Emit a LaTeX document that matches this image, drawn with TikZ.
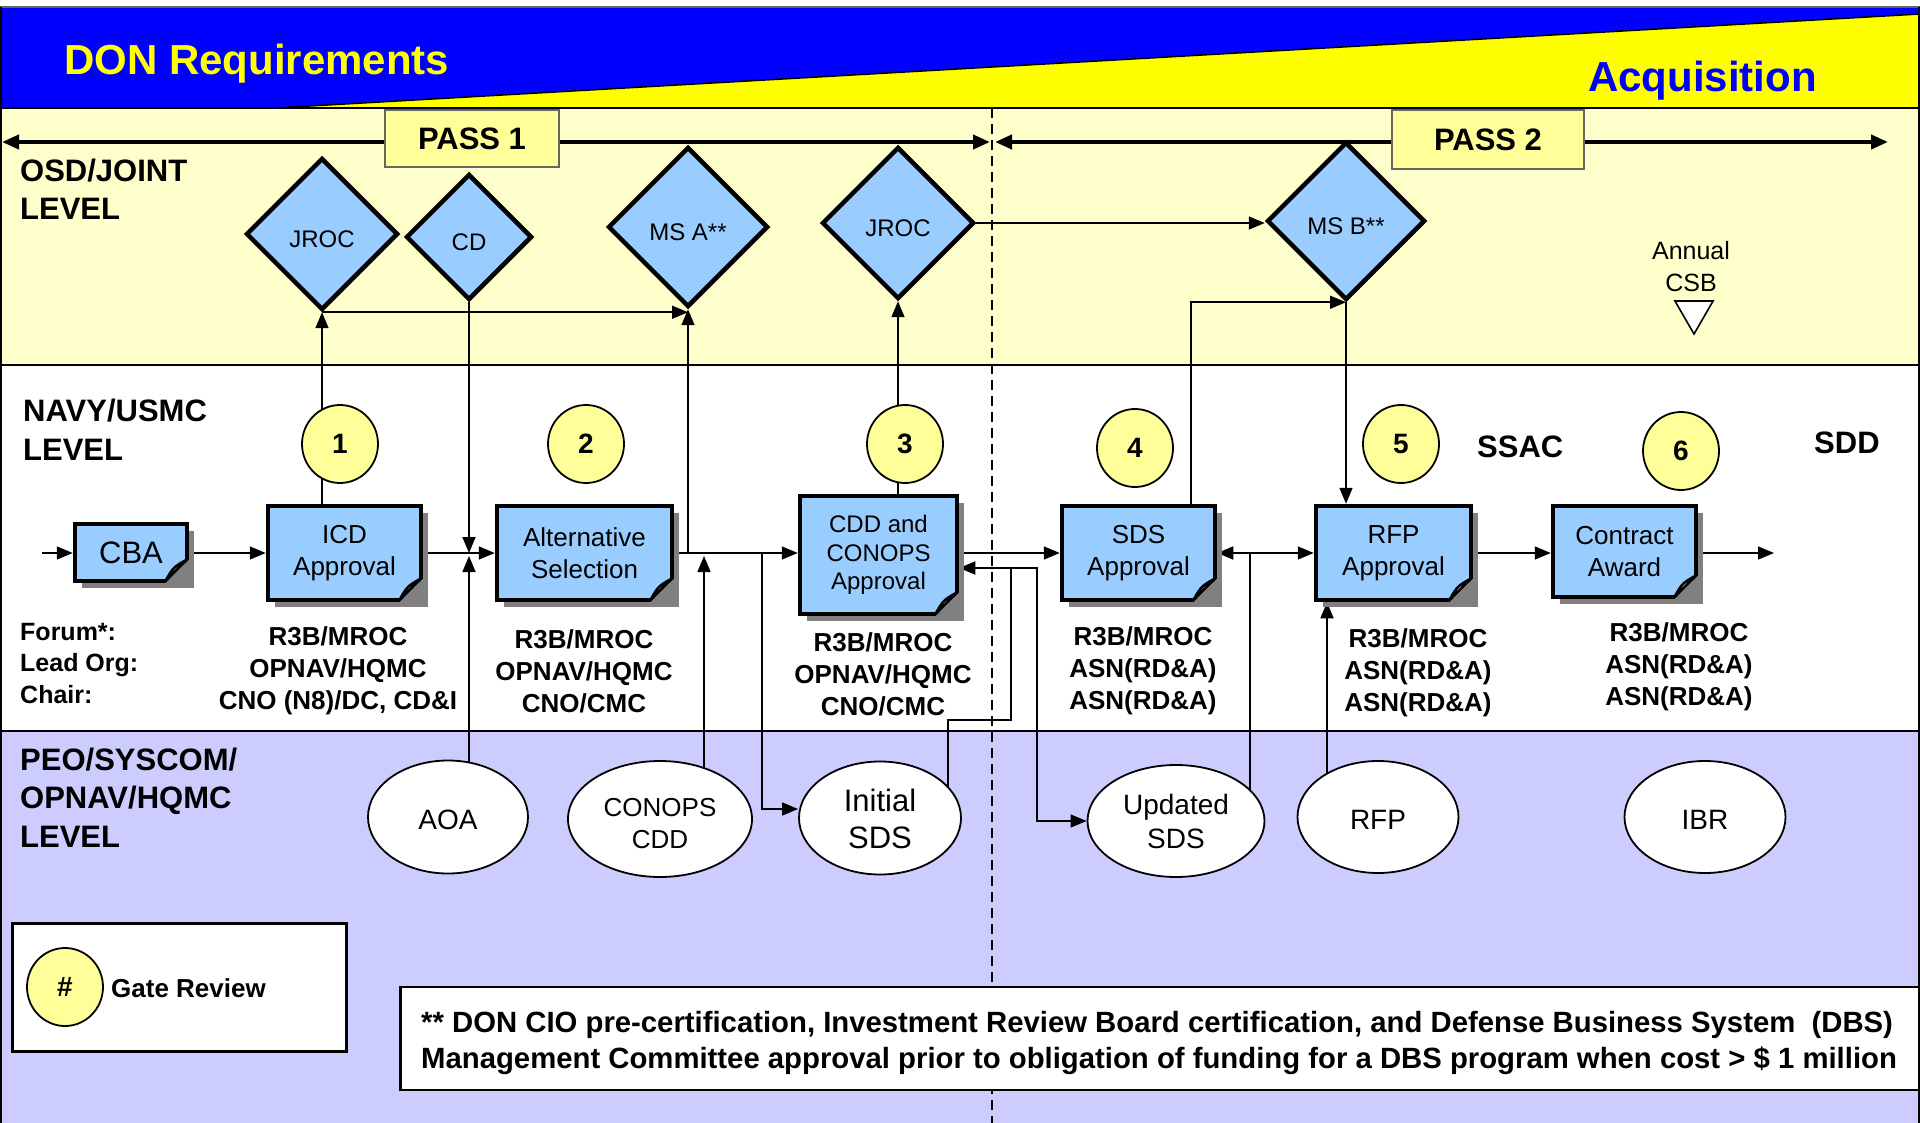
\documentclass[tikz,border=0pt]{standalone}
\usepackage{fontspec}
\setmainfont{Liberation Sans}
\usetikzlibrary{shapes.geometric,arrows.meta,shadows,calc}
\definecolor{bannerblue}{HTML}{0000FF}
\definecolor{banneryellow}{HTML}{FFFF00}
\definecolor{osdbg}{HTML}{FFFFCC}
\definecolor{peobg}{HTML}{CCCCFF}
\definecolor{procblue}{HTML}{99CCFF}
\definecolor{gateyellow}{HTML}{FFFF99}
\pgfdeclarelayer{bg}\pgfdeclarelayer{conn}\pgfsetlayers{bg,conn,main}
\newcommand{\fs}[2]{\fontsize{#1}{#2}\selectfont}
\newcommand{\dropby}[2]{\raisebox{-#1}[\height][\depth]{#2}}
\newcommand{\twolines}[2]{\begin{tabular}{@{}c@{}}#1\\#2\end{tabular}}
\newcommand{\pagecurl}[1]{%
  \fill[black!50] ($(#1.south east)+(-24pt,0pt)$) -- (#1.south east) -- ($(#1.south east)+(0pt,24pt)$) -- cycle;
  \filldraw[fill=white, draw=black, line width=2.5pt, line join=round]
    ($(#1.south east)+(-24pt,2pt)$) .. controls ($(#1.south east)+(-16pt,16pt)$) .. ($(#1.south east)+(-2pt,24pt)$) -- cycle;}
\tikzset{
  diam/.style={diamond, aspect=1, draw, line width=4.5pt, fill=procblue, inner sep=0pt, font=\fs{24}{28}},
  gate/.style={ellipse, draw, line width=1.8pt, fill=gateyellow, minimum width=76pt, minimum height=78pt, inner sep=0pt, font=\bfseries\fs{28}{32}},
  proc/.style={rectangle, draw, line width=4.5pt, fill=procblue, inner sep=0pt, align=center, font=\fs{26}{32},
    drop shadow={shadow xshift=7pt, shadow yshift=-7pt, fill=black!50, opacity=1}},
  doc/.style={ellipse, draw, line width=1.8pt, fill=white, inner sep=0pt, align=center, font=\fs{28}{34}},
  conn/.style={line width=1.6pt},
  arr/.style={conn, -{Triangle[length=16pt,width=13pt]}},
  lanelbl/.style={anchor=base west, font=\bfseries\fs{31}{38.5}, align=left, inner sep=0pt},
  info/.style={font=\bfseries\fs{26}{32}, align=center, inner sep=0pt},
  passbox/.style={rectangle, draw=black!60, line width=1.5pt, fill=gateyellow, inner sep=0pt, font=\bfseries\fs{31}{36}},
  passline/.style={line width=4pt, {Triangle[length=17pt,width=14pt]}-{Triangle[length=17pt,width=14pt]}},
  plain/.style={inner sep=0pt}
}
\begin{document}
\begin{tikzpicture}[x=1pt,y=-1pt]
\useasboundingbox (0,0) rectangle (1920,1123);
% ---------- backgrounds ----------
\begin{pgfonlayer}{bg}
  \fill[white] (0,0) rectangle (1920,1123);
  \fill[bannerblue] (0,7) rectangle (1920,108);
  \fill[banneryellow] (275,108) -- (1920,14) -- (1920,108) -- cycle;
  \draw[line width=1.5pt] (275,108) -- (1920,14);
  \fill[osdbg] (0,108) rectangle (1920,365);
  \fill[white] (0,365) rectangle (1920,731);
  \fill[peobg] (0,731) rectangle (1920,1123);
  \draw[line width=1.5pt, black!60] (0,7) -- (1920,7);
  \draw[line width=2.5pt] (0,108) -- (1920,108);
  \draw[line width=2.5pt] (0,365) -- (1920,365);
  \draw[line width=2.5pt] (0,731) -- (1920,731);
  \draw[line width=2pt] (1,7) -- (1,1123);
  \draw[line width=2pt] (1919,7) -- (1919,1123);
\end{pgfonlayer}

% ---------- texts in banner ----------
\node[plain, anchor=base west, text=banneryellow, font=\bfseries\fs{42}{48}] (don) at (64,75) {DON Requirements};
\node[plain, anchor=base west, text=bannerblue, font=\bfseries\fs{42}{48}] (acq) at (1588,92) {Acquisition};

% ---------- lane labels (anchor = baseline of last line) ----------
\node[lanelbl] (osdl) at (20,220) {OSD/JOINT\\LEVEL};
\node[lanelbl] (navl) at (23,460) {NAVY/USMC\\LEVEL};
\node[lanelbl] (peol) at (20,847) {PEO/SYSCOM/\\OPNAV/HQMC\\LEVEL};

% ---------- pass boxes ----------
\node[passbox, minimum width=174pt, minimum height=57pt] (pass1) at (472,138.5) {PASS 1};
\node[passbox, minimum width=192pt, minimum height=59pt] (pass2) at (1488,139.5) {PASS 2};

% ---------- diamonds ----------
\node[diam, minimum width=152pt, minimum height=152pt] (jroc1) at (322,234) {\dropby{5pt}{JROC}};
\node[diam, minimum width=126pt, minimum height=126pt] (cd) at (469,237) {\dropby{5pt}{CD}};
\node[diam, minimum width=160pt, minimum height=160pt] (msa) at (688,227) {\dropby{5pt}{MS A**}};
\node[diam, minimum width=152pt, minimum height=152pt] (jroc2) at (898,223) {\dropby{5pt}{JROC}};
\node[diam, minimum width=158pt, minimum height=158pt] (msb) at (1346,221) {\dropby{5pt}{MS B**}};

% ---------- annual CSB ----------
\node[plain, font=\fs{25}{32}, align=center] (csb) at (1691,267) {Annual\\CSB};
\node[regular polygon, regular polygon sides=3, shape border rotate=180, draw, line width=1.6pt, fill=white, minimum size=44pt, inner sep=0pt] (csbtri) at (1694,312) {};

% ---------- gates ----------
\node[gate] (g1) at (340,444) {1};
\node[gate] (g2) at (586,444) {2};
\node[gate] (g3) at (905,444) {3};
\node[gate] (g4) at (1135,448) {4};
\node[gate] (g5) at (1401,444) {5};
\node[gate] (g6) at (1681,451) {6};
\node[plain, anchor=base west, font=\bfseries\fs{31}{36}] (ssac) at (1477,457) {SSAC};
\node[plain, anchor=base west, font=\bfseries\fs{31}{36}] (sdd) at (1814,453) {SDD};

% ---------- process boxes ----------
\node[proc, minimum width=112pt, minimum height=57pt, font=\fs{31}{36}] (cba) at (131,552.5) {CBA};
\node[proc, minimum width=153pt, minimum height=94pt] (icd) at (344.5,553) {ICD\\Approval};
\node[proc, minimum width=175pt, minimum height=94pt] (alt) at (584.5,553) {Alternative\\Selection};
\node[proc, minimum width=157pt, minimum height=118pt, font=\fs{24}{28.5}] (cdd) at (878.5,555) {CDD and\\CONOPS\\Approval};
\node[proc, minimum width=153pt, minimum height=94pt] (sds) at (1138.5,553) {SDS\\Approval};
\node[proc, minimum width=155pt, minimum height=94pt] (rfpa) at (1393.5,553) {RFP\\Approval};
\node[proc, minimum width=143pt, minimum height=91pt] (ca) at (1624.5,551.5) {Contract\\Award};
\pagecurl{cba}\pagecurl{icd}\pagecurl{alt}\pagecurl{cdd}\pagecurl{sds}\pagecurl{rfpa}\pagecurl{ca}

% ---------- forum / org texts ----------
\node[plain, anchor=base west, font=\bfseries\fs{25}{31.5}, align=left] (forum) at (20,703) {Forum*:\\Lead Org:\\Chair:};
\node[info] (i1) at (338,671) {R3B/MROC\\OPNAV/HQMC\\CNO (N8)/DC, CD\&I};
\node[info] (i2) at (584,671) {R3B/MROC\\OPNAV/HQMC\\CNO/CMC};
\node[info] (i3) at (883,674) {R3B/MROC\\OPNAV/HQMC\\CNO/CMC};
\node[info] (i4) at (1143,671) {R3B/MROC\\ASN(RD\&A)\\ASN(RD\&A)};
\node[info] (i5) at (1418,673) {R3B/MROC\\ASN(RD\&A)\\ASN(RD\&A)};
\node[info] (i6) at (1679,667) {R3B/MROC\\ASN(RD\&A)\\ASN(RD\&A)};

% ---------- documents (ellipses) ----------
\node[doc, minimum width=160pt, minimum height=113pt] (aoa) at (448,817) {\dropby{3pt}{AOA}};
\node[doc, minimum width=184pt, minimum height=116pt, font=\fs{26}{32}] (conops) at (660,819) {\dropby{7pt}{\twolines{CONOPS}{CDD}}};
\node[doc, minimum width=162pt, minimum height=113pt, font=\fs{31}{37}] (isds) at (880,818) {\dropby{5pt}{\twolines{Initial}{SDS}}};
\node[doc, minimum width=177pt, minimum height=112pt] (usds) at (1176,821) {\dropby{4pt}{\twolines{Updated}{SDS}}};
\node[doc, minimum width=161pt, minimum height=112pt] (rfp) at (1378,817) {\dropby{3pt}{RFP}};
\node[doc, minimum width=161pt, minimum height=112pt] (ibr) at (1705,817) {\dropby{3pt}{IBR}};

% ---------- legend ----------
\node[draw, line width=2.5pt, fill=white, minimum width=334pt, minimum height=128pt, inner sep=0pt] (legend) at (179.5,987.5) {};
\node[gate] (lg) at (65,987) {\#};
\node[plain, anchor=base west, font=\bfseries\fs{26}{30}] (lgt) at (111,997) {Gate Review};

% ---------- footnote ----------
\node[draw, line width=2.5pt, fill=white, minimum width=1519pt, minimum height=103pt, inner sep=0pt] (note) at (1160,1038.5) {};
\node[plain, anchor=base west, font=\bfseries\fs{29.3}{36}, align=left] (notetext) at (421,1068)
  {** DON CIO pre-certification, Investment Review Board certification, and Defense Business System\ \ (DBS)\\
   Management Committee approval prior to obligation of funding for a DBS program when cost > \$ 1 million};

% ---------- connectors ----------
\begin{pgfonlayer}{conn}
  \draw[line width=1.5pt, dash pattern=on 10pt off 6pt] (992,108) -- (992,1123);
  \coordinate (pl) at (2,142);
  \coordinate (pm1) at (990,142);
  \coordinate (pm2) at (995,142);
  \coordinate (pr) at (1888,142);
  \draw[passline] (pl) -- (pm1);
  \draw[passline] (pm2) -- (pr);

  \coordinate (cin) at (42,553);
  \coordinate (j2) at (762,553);
  \coordinate (r1) at (1011,720);
  \coordinate (r2) at (1011,568);
  \coordinate (r3) at (1037,568);
  \coordinate (j4) at (1250,553);
  \coordinate (cout) at (1774,553);

  \draw[arr] (cin) -- (cin -| cba.west);
  \draw[arr] (cba.east |- icd.west) -- (icd.west);
  \draw[arr] (icd.east) -- (alt.west);
  \draw[arr] (cd.south) -- (cd.south |- icd.east);
  \draw[arr] ([xshift=21pt]aoa.center) -- ([yshift=-3pt]cd.south |- icd.east);
  \draw[arr] (jroc1.south |- icd.north) -- (jroc1.south);
  \draw[arr] (jroc1.south) -- (jroc1.south -| msa.south);
  \draw[arr] (alt.east) -- (alt.east -| cdd.west);
  \draw[arr] (msa.south |- alt.east) -- (msa.south);
  \draw[arr] ([xshift=44pt]conops.center) -- ([xshift=44pt,yshift=-3pt]conops.center |- alt.east);
  \draw[arr] (j2) |- ([yshift=9pt]isds.west);
  \draw[arr] (cdd.east |- sds.west) -- (sds.west);
  \draw[arr] ([xshift=68pt]isds.center) |- (r1) -- (r2) -- (r2 -| cdd.east);
  \draw[arr] (r2) -- (r3) |- (usds.west);
  \draw[arr] ([xshift=52.5pt]sds.north) |- (msb.south);
  \draw[arr] (msb.south) -- (msb.south |- rfpa.north);
  \draw[conn] ([xshift=74pt]usds.center) -- (j4);
  \draw[arr] (j4) -- (sds.east);
  \draw[arr] (j4) -- (rfpa.west);
  \draw[arr] ([xshift=-51pt]rfp.center) -- ([xshift=-51pt]rfp.center |- rfpa.south);
  \draw[arr] (rfpa.east) -- (rfpa.east -| ca.west);
  \draw[arr] (ca.east |- rfpa.east) -- (cout);
  \draw[arr] (jroc2.south |- cdd.north) -- (jroc2.south);
  \draw[arr] (jroc2.east) -- (jroc2.east -| msb.west);
\end{pgfonlayer}
\end{tikzpicture}
\end{document}
